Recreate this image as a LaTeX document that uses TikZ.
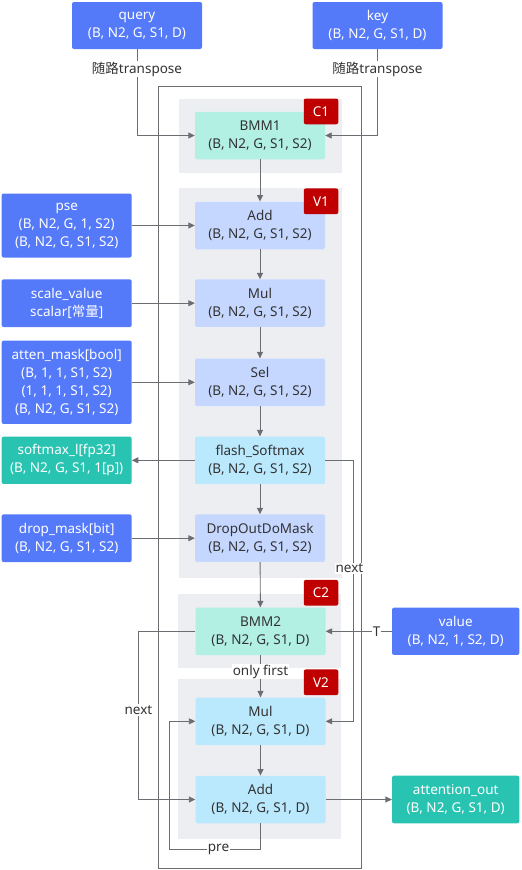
\documentclass[tikz,border=0pt]{standalone}
\usepackage{fontspec}
\setmainfont{Noto Sans}
\newfontfamily\cjk{Noto Sans CJK SC}
\usetikzlibrary{arrows.meta}
\definecolor{inblue}{HTML}{5479F9}
\definecolor{outgreen}{HTML}{29C4B1}
\definecolor{mintc}{HTML}{B1F0E3}
\definecolor{peric}{HTML}{C5D7FF}
\definecolor{cyanc}{HTML}{BAE8FC}
\definecolor{grpc}{HTML}{EDEEF2}
\definecolor{badgec}{HTML}{C00000}
\definecolor{linec}{HTML}{6B6D73}
\definecolor{txt}{HTML}{333333}
\begin{document}
\begin{tikzpicture}[x=1pt,y=-1pt,
  box/.style={rectangle, rounded corners=2pt, inner sep=0pt, align=center,
    font=\fontsize{13.5}{18}\selectfont, minimum width=130pt},
  inp/.style={box, fill=inblue, text=white},
  outp/.style={box, fill=outgreen, text=white},
  op/.style={box, minimum height=47.5pt, text=txt},
  opmint/.style={op, fill=mintc},
  opperi/.style={op, fill=peric},
  opcy/.style={op, fill=cyanc},
  badge/.style={rectangle, rounded corners=2pt, fill=badgec, text=white,
    minimum width=34.5pt, minimum height=25.7pt, inner sep=0pt,
    font=\fontsize{13.5}{16}\selectfont},
  arr/.style={draw=linec, line width=0.9pt, -{Triangle[length=6.5pt,width=6pt]}},
  plain/.style={draw=linec, line width=0.9pt},
  lbl/.style={fill=white, inner sep=1pt, text=txt, font=\fontsize{13.5}{16}\selectfont}
]
\useasboundingbox (0,0) rectangle (522,870);
% group backgrounds
\fill[grpc] (178.7,98.7) rectangle (341.7,173);
\fill[grpc] (178.7,188.3) rectangle (341.7,578.3);
\fill[grpc] (178.3,594) rectangle (341,668.3);
\fill[grpc] (178.3,679) rectangle (341,838.7);
% outer frame
\draw[plain] (158.5,86) rectangle (361.7,868.5);
% inputs
\node[inp, minimum height=47pt] (query) at (137,25.5) {query\\(B, N2, G, S1, D)};
\node[inp, minimum height=47pt] (key) at (377.5,25.5) {key\\(B, N2, G, S1, D)};
\node[inp, minimum height=64pt] (pse) at (66.7,225.5) {pse\\(B, N2, G, 1, S2)\\(B, N2, G, S1, S2)};
\node[inp, minimum height=47.7pt] (scale) at (66.7,303.2) {scale\_value\\scalar[{\cjk 常量}]};
\node[inp, minimum height=83.3pt] (atten) at (66.7,382.3) {atten\_mask[bool]\\(B, 1, 1, S1, S2)\\(1, 1, 1, S1, S2)\\(B, N2, G, S1, S2)};
\node[outp, minimum height=47.3pt] (softl) at (66.7,460.3) {softmax\_l[fp32]\\(B, N2, G, S1, 1[p])};
\node[inp, minimum height=47.7pt] (dmask) at (66.7,538.2) {drop\_mask[bit]\\(B, N2, G, S1, S2)};
\node[inp, minimum width=127.3pt, minimum height=47.3pt] (value) at (455.7,631.3) {value\\(B, N2, 1, S2, D)};
\node[outp, minimum width=127.3pt, minimum height=47.6pt] (attout) at (455.7,799.5) {attention\_out\\(B, N2, G, S1, D)};
% operators
\node[opmint] (bmm1) at (260,135.5) {BMM1\\(B, N2, G, S1, S2)};
\node[opperi] (add1) at (260,225.5) {Add\\(B, N2, G, S1, S2)};
\node[opperi] (mul1) at (260,303.2) {Mul\\(B, N2, G, S1, S2)};
\node[opperi] (sel) at (260,382.3) {Sel\\(B, N2, G, S1, S2)};
\node[opcy] (soft) at (260,460.3) {flash\_Softmax\\(B, N2, G, S1, S2)};
\node[opperi] (drop) at (260,538.2) {DropOutDoMask\\(B, N2, G, S1, S2)};
\node[opmint] (bmm2) at (260.5,631.3) {BMM2\\(B, N2, G, S1, D)};
\node[opcy] (mul2) at (260.5,721.3) {Mul\\(B, N2, G, S1, D)};
\node[opcy] (add2) at (260.5,799.5) {Add\\(B, N2, G, S1, D)};
% badges
\node[badge] (c1) at (321,111.4) {C1};
\node[badge] (v1) at (321,201.3) {V1};
\node[badge] (c2) at (321,592.8) {C2};
\node[badge] (v2) at (321,682.3) {V2};
% connectors
\draw[arr] (query.south) |- (bmm1.west);
\draw[arr] (key.south) |- (bmm1.east);
\node[lbl] (tq) at (137,69) {{\cjk 随路}transpose};
\node[lbl] (tk) at (377.5,69) {{\cjk 随路}transpose};
\draw[arr] (bmm1) -- (add1);
\draw[arr] (add1) -- (mul1);
\draw[arr] (mul1) -- (sel);
\draw[arr] (sel) -- (soft);
\draw[arr] (soft) -- (drop);
\draw[arr] (drop) -- (bmm2);
\draw[arr] (mul2) -- (add2);
\draw[arr] (pse) -- (add1);
\draw[arr] (scale) -- (mul1);
\draw[arr] (atten) -- (sel);
\draw[arr] (soft) -- (softl);
\draw[arr] (dmask) -- (drop);
\draw[arr] (value) -- node[lbl, pos=0.23] (tT) {T} (bmm2);
\draw[arr] (bmm2) -- node[lbl, pos=0.39] (tonly) {only first} (mul2);
\draw[arr] (add2) -- (attout);
\draw[arr] (soft.east) -- ++(28,0) |- (mul2.east);
\draw[arr] (bmm2.west) -- ++(-56.4,0) |- (add2.west);
\draw[arr] (add2.south) -- ++(0,25.5) -- node[lbl, pos=0.46] (tpre) {pre} ++(-91.2,0) |- (mul2.west);
\node[lbl] (tnext1) at (349.5,568.3) {next};
\node[lbl] (tnext2) at (138.5,710) {next};
\end{tikzpicture}
\end{document}
